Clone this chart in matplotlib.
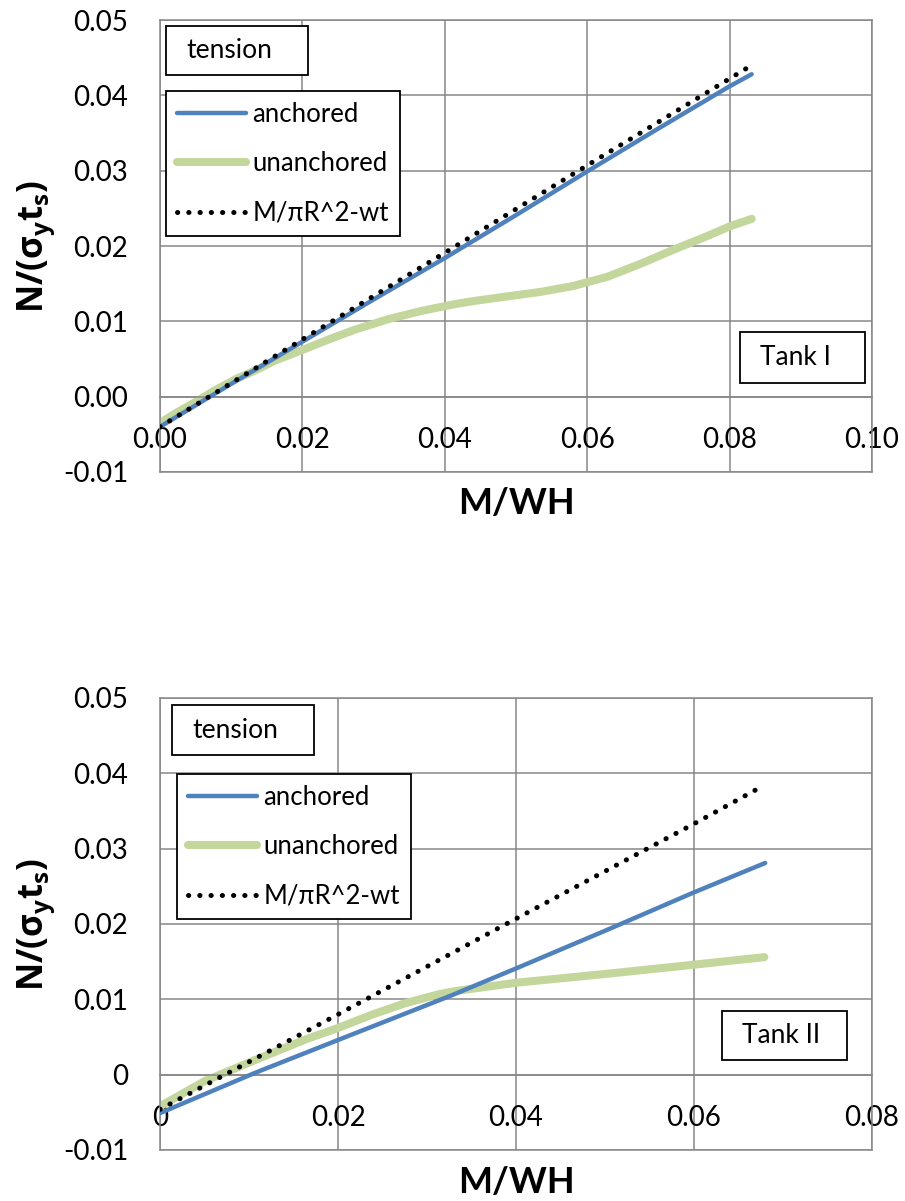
import numpy as np
import matplotlib
matplotlib.use('Agg')
import matplotlib.pyplot as plt
from matplotlib.patches import Rectangle

plt.rcParams['font.family'] = ['Lato', 'DejaVu Sans']
plt.rcParams['mathtext.fontset'] = 'custom'
plt.rcParams['mathtext.rm'] = 'Open Sans'
plt.rcParams['mathtext.bf'] = 'Open Sans:bold'
plt.rcParams['mathtext.it'] = 'Open Sans:italic'

# ---- Tank I ----
x1_anch = [0.0, 0.01, 0.02, 0.03, 0.04, 0.05, 0.06, 0.07, 0.08, 0.0831]
y1_anch = [-0.0040, 0.0017, 0.0073, 0.0129, 0.0184, 0.0241, 0.0299, 0.0356, 0.0412, 0.0428]
x1_unan = [0.0, 0.0022, 0.005, 0.0078, 0.0106, 0.0134, 0.0162, 0.02, 0.0237, 0.0274,
           0.0321, 0.0368, 0.0415, 0.0441, 0.0487, 0.0534, 0.0581, 0.06, 0.0628, 0.0674,
           0.0721, 0.0768, 0.08, 0.0831]
y1_unan = [-0.0035, -0.0022, -0.0007, 0.0009, 0.0023, 0.0035, 0.0048, 0.0062, 0.0076, 0.0089,
           0.0103, 0.0114, 0.0123, 0.0127, 0.0133, 0.0139, 0.0147, 0.0152, 0.0159, 0.0176,
           0.0195, 0.0213, 0.0226, 0.0236]
x1_form = [0.0, 0.02, 0.04, 0.06, 0.0831]
y1_form = [-0.0040, 0.0076, 0.0191, 0.0307, 0.0440]
x1_ticks = [0.0, 0.02, 0.04, 0.06, 0.08, 0.10]
x1_labels = ['0.00', '0.02', '0.04', '0.06', '0.08', '0.10']
y1_ticks = [-0.01, 0.0, 0.01, 0.02, 0.03, 0.04, 0.05]
y1_labels = ['-0.01', '0.00', '0.01', '0.02', '0.03', '0.04', '0.05']

# ---- Tank II ----
x2_anch = [0.0, 0.0108, 0.02, 0.0327, 0.04, 0.05, 0.06, 0.068]
y2_anch = [-0.0051, 0.0003, 0.0046, 0.0105, 0.0141, 0.0191, 0.0242, 0.0281]
x2_unan = [0.0, 0.0051, 0.0108, 0.0164, 0.02, 0.0239, 0.0276, 0.0314, 0.0332, 0.04,
           0.0503, 0.06, 0.0679]
y2_unan = [-0.0042, -0.0008, 0.0020, 0.0047, 0.0062, 0.0080, 0.0095, 0.0107, 0.0111, 0.0122,
           0.0134, 0.0146, 0.0156]
x2_form = [0.0, 0.02, 0.04, 0.06, 0.0674]
y2_form = [-0.0046, 0.0080, 0.0207, 0.0333, 0.0381]
x2_ticks = [0.0, 0.02, 0.04, 0.06, 0.08]
x2_labels = ['0', '0.02', '0.04', '0.06', '0.08']
y2_ticks = [-0.01, 0.0, 0.01, 0.02, 0.03, 0.04, 0.05]
y2_labels = ['-0.01', '0', '0.01', '0.02', '0.03', '0.04', '0.05']

names = ['anchored', 'unanchored', 'M/\u03c0R^2-wt']
blue = '#4F81BD'
green = '#C3D69B'
grid_c = '#878787'

fig = plt.figure(figsize=(9.05, 12.01), dpi=100)
W, H = 905, 1201


def box(x0, x1, y0, y1, txt, tx):
    # text box given in pixel coords of the figure
    r = Rectangle((x0 / W, 1 - y1 / H), (x1 - x0) / W, (y1 - y0) / H,
                  transform=fig.transFigure, facecolor='white', edgecolor='black',
                  lw=1.3, zorder=10)
    fig.add_artist(r)
    fig.text(tx / W, 1 - (y0 + y1) / 2 / H, txt, ha='left', va='center',
             fontsize=19, zorder=11)


def panel(rect, xa, ya, xu, yu, xf, yf, xt, xl, yt, yl, xmax, leg_xy, lab_y,
          tank, tank_box, tank_tx, tens_box, tens_tx):
    ax = fig.add_axes(rect)
    ax.set_xlim(0, xmax)
    ax.set_ylim(-0.01, 0.05)
    ax.set_xticks(xt)
    ax.set_xticklabels(xl)
    ax.set_yticks(yt)
    ax.set_yticklabels(yl)
    ax.grid(True, color=grid_c, lw=1.1)
    ax.set_axisbelow(True)
    for s in ax.spines.values():
        s.set_color(grid_c)
        s.set_linewidth(1.1)
    ax.spines['bottom'].set_position(('data', 0))
    ax.axhline(-0.01, color=grid_c, lw=1.1, clip_on=False, zorder=0.5)
    ax.tick_params(axis='both', length=0, labelsize=20)
    ax.tick_params(axis='x', pad=22)
    ax.tick_params(axis='y', pad=23)

    l1, = ax.plot(xa, ya, color=blue, lw=3.2, solid_capstyle='round', zorder=3)
    l2, = ax.plot(xu, yu, color=green, lw=5.8, solid_capstyle='round', zorder=2)
    l3, = ax.plot(xf, yf, color='black', lw=3.6, linestyle=(0, (0.05, 2.2)),
                  dash_capstyle='round', zorder=4)
    leg = ax.legend([l1, l2, l3], names, loc='upper left', bbox_to_anchor=leg_xy,
                    borderaxespad=0, fancybox=False, edgecolor='black', framealpha=1,
                    fontsize=18.5, handlelength=2.7, handletextpad=0.25, labelspacing=0.95,
                    borderpad=0.42)
    leg.get_frame().set_linewidth(1.3)
    leg.set_zorder(10)

    ax.text(0.5, lab_y, 'M/WH', transform=ax.transAxes, ha='center',
            va='center', fontsize=26, fontweight='bold')
    ax.text(-0.174, 0.5, r'$\mathbf{N/(\sigma_y t_s)}$', transform=ax.transAxes,
            rotation=90, ha='center', va='center', fontsize=25)
    box(*tens_box, 'tension', tens_tx)
    box(*tank_box, tank, tank_tx)
    return ax


panel([160 / W, 1 - 472 / H, 712 / W, 452 / H], x1_anch, y1_anch, x1_unan, y1_unan,
      x1_form, y1_form, x1_ticks, x1_labels, y1_ticks, y1_labels, 0.10,
      (6 / 712, (472 - 91) / 452), -0.069,
      'Tank I', (740, 865, 332, 383), 760, (166, 308, 26, 75), 186)
panel([160 / W, 1 - 1150 / H, 712 / W, 452 / H], x2_anch, y2_anch, x2_unan, y2_unan,
      x2_form, y2_form, x2_ticks, x2_labels, y2_ticks, y2_labels, 0.08,
      (17 / 712, (1150 - 774) / 452), -0.071,
      'Tank II', (722, 847, 1011, 1060), 742, (172, 314, 705, 755), 192)

fig.savefig('out.png', dpi=100)
